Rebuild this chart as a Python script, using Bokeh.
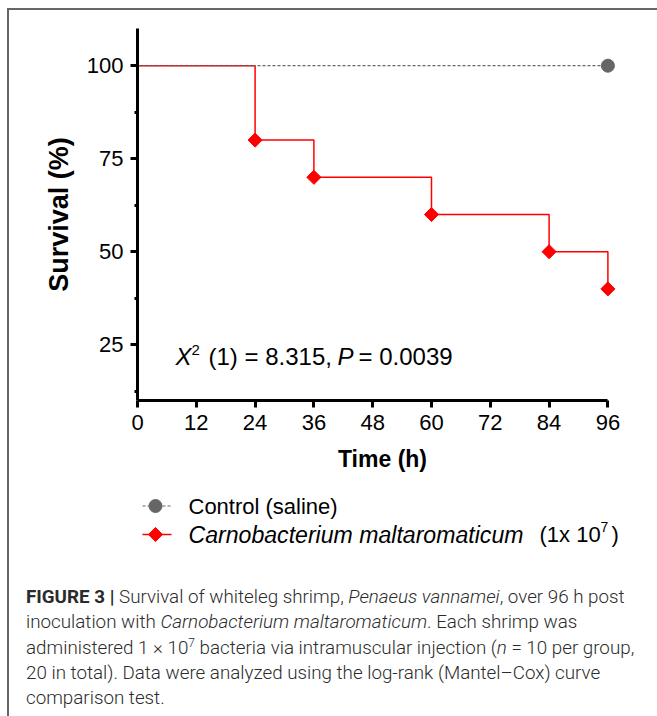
from bokeh.plotting import figure
from bokeh.models import FixedTicker, Label, Div, Range1d
from bokeh.layouts import column
from bokeh.embed import file_html
from bokeh.resources import INLINE

# ---------------- data ----------------
x_ticks = [0, 12, 24, 36, 48, 60, 72, 84, 96]
y_ticks = [25, 50, 75, 100]
y_minor = [12.5, 37.5, 62.5, 87.5]

control_time = [0, 96]
control_surv = [100, 100]
control_pts_time = [96]
control_pts_surv = [100]

cm_time = [0, 24, 36, 60, 84, 96]
cm_surv = [100, 80, 70, 60, 50, 40]
cm_pts_time = [24, 36, 60, 84, 96]
cm_pts_surv = [80, 70, 60, 50, 40]

legend_labels = ["Control (saline)", "Carnobacterium maltaromaticum", "(1x 10", "7", ")"]
stats_parts = ["X", "2", "(1) = 8.315,", "P", "= 0.0039"]

FONT = "Liberation Sans"
RED = "#ff0000"
GRAY = "#666666"

BL, BR = 128, 28   # frame borders (px)

# ---------------- main plot ----------------
p = figure(width=646, height=475, x_range=Range1d(0, 100), y_range=Range1d(10, 110),
           output_backend="svg", toolbar_location=None,
           min_border_left=BL, min_border_right=BR, min_border_top=18, min_border_bottom=85)
p.outline_line_color = None
p.grid.visible = False
p.background_fill_color = "white"
p.border_fill_color = "white"

for ax in (p.xaxis[0], p.yaxis[0]):
    ax.axis_line_width = 3
    ax.axis_line_color = "black"
    ax.major_tick_line_width = 3
    ax.major_tick_line_color = "black"
    ax.major_tick_in = 0
    ax.major_tick_out = 7
    ax.major_label_text_font = FONT
    ax.major_label_text_font_size = "22px"
    ax.major_label_text_color = "black"
    ax.axis_label_text_font = FONT
    ax.axis_label_text_font_style = "bold"
    ax.axis_label_text_color = "black"

p.xaxis.ticker = FixedTicker(ticks=x_ticks)
p.xaxis.bounds = (0, 96)
p.xaxis.minor_tick_line_color = None
p.xaxis.major_label_standoff = 7
p.xaxis.axis_label = "Time (h)"
p.xaxis.axis_label_text_font_size = "23px"
p.xaxis.axis_label_standoff = 13

p.yaxis.ticker = FixedTicker(ticks=y_ticks, minor_ticks=y_minor)
p.yaxis.minor_tick_line_width = 3
p.yaxis.minor_tick_line_color = "black"
p.yaxis.minor_tick_in = 0
p.yaxis.minor_tick_out = 3
p.yaxis.major_label_standoff = 7
p.yaxis.axis_label = "Survival (%)"
p.yaxis.axis_label_text_font_size = "27px"
p.yaxis.axis_label_standoff = 10

# treatment step curve
p.step(cm_time, cm_surv, mode="after", line_color=RED, line_width=1.5)
p.scatter(cm_pts_time, cm_pts_surv, marker="square", angle=0.785398, size=10,
          fill_color=RED, line_color=RED)
# control
p.line(control_time, control_surv, line_color=GRAY, line_width=1.2, line_dash="3 2")
p.scatter(control_pts_time, control_pts_surv, marker="circle", size=13,
          fill_color=GRAY, line_color=GRAY)

# statistics text
sx, sy = 7.76, 21.8
stat_specs = [(0, 0, "24px", "italic"), (16, 7, "15px", "normal"), (33, 0, "24px", "normal"),
              (162, 0, "24px", "italic"), (183, 0, "24px", "normal")]
for txt, (dx, dy, fs, st) in zip(stats_parts, stat_specs):
    p.add_layout(Label(x=sx, y=sy, x_offset=dx, y_offset=dy, text=txt, text_font=FONT,
                       text_font_size=fs, text_font_style=st, text_color="black",
                       text_baseline="middle", text_align="left"))

# ---------------- legend (frame aligned with main frame; x in px from frame left) ----------------
leg = figure(width=646, height=70, x_range=Range1d(0, 490), y_range=Range1d(0, 70),
             output_backend="svg", toolbar_location=None,
             min_border_left=BL, min_border_right=BR, min_border_top=0, min_border_bottom=0,
             x_axis_location=None, y_axis_location=None)
leg.outline_line_color = None
leg.grid.visible = False
leg.background_fill_color = "white"
leg.border_fill_color = "white"
r1, r2 = 49.5, 21
leg.line([5, 34], [r1, r1], line_color=GRAY, line_width=1.2, line_dash="3 2")
leg.scatter([18], [r1], marker="circle", size=13, fill_color=GRAY, line_color=GRAY)
leg.line([5, 34], [r2, r2], line_color=RED, line_width=1.5)
leg.scatter([18], [r2], marker="square", angle=0.785398, size=10, fill_color=RED, line_color=RED)

leg_specs = [(51, r1, "22px", "normal"), (51, r2, "23.1px", "italic"), (402, r2, "22px", "normal"),
             (463, r2 + 8, "14px", "normal"), (474, r2, "22px", "normal")]
for txt, (lx, ly, fs, st) in zip(legend_labels, leg_specs):
    leg.add_layout(Label(x=lx, y=ly, text=txt, text_font=FONT, text_font_size=fs,
                         text_font_style=st, text_color="black",
                         text_baseline="middle", text_align="left"))

# ---------------- caption ----------------
caption_html = (
    '<div style="font-family:Roboto, sans-serif; font-weight:300; font-size:18.8px; '
    'line-height:25.3px; color:#2b2b2b; padding:25px 0 0 12px; white-space:nowrap;">'
    '<span style="font-weight:700">FIGURE 3 |</span> Survival of whiteleg shrimp, '
    '<i>Penaeus vannamei</i>, over 96 h post<br>'
    'inoculation with <i>Carnobacterium maltaromaticum</i>. Each shrimp was<br>'
    'administered 1 &times; 10<sup style="font-size:12px; line-height:0; vertical-align:7px;">7</sup> '
    'bacteria via intramuscular injection (<i>n</i> = 10 per group,<br>'
    '20 in total). Data were analyzed using the log-rank (Mantel&ndash;Cox) curve<br>'
    'comparison test.</div>'
)
cap = Div(text=caption_html, width=646, height=160)

layout = column(p, leg, cap,
                styles={"border-left": "2px solid #666666", "border-top": "2px solid #666666",
                        "margin-left": "7px", "margin-top": "8px"})

open("out.html", "w").write(file_html(layout, INLINE))
